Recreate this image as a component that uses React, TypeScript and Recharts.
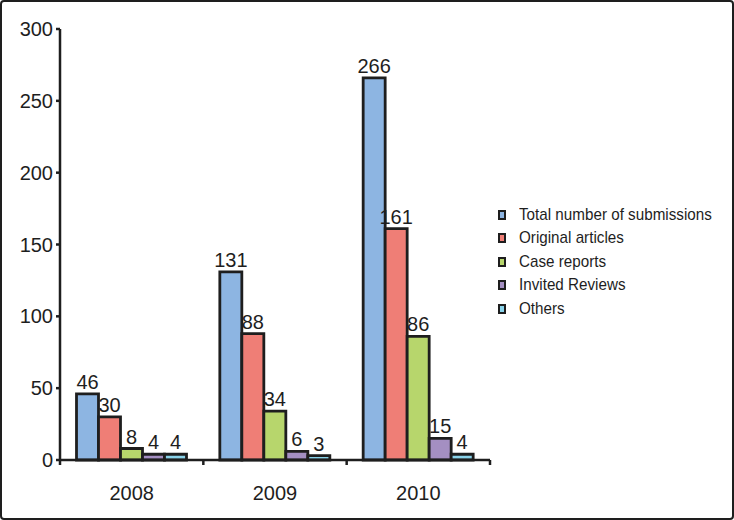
import React from 'react';
import { BarChart, Bar, XAxis, YAxis, Legend, LabelList } from 'recharts';

const years = ['2008', '2009', '2010'];
const totalSubmissions = [46, 131, 266];
const originalArticles = [30, 88, 161];
const caseReports = [8, 34, 86];
const invitedReviews = [4, 6, 15];
const others = [4, 3, 4];
const yTicks = [0, 50, 100, 150, 200, 250, 300];

const series = [
  { key: 'total', name: 'Total number of submissions', color: '#8DB5E2', values: totalSubmissions },
  { key: 'original', name: 'Original articles', color: '#EF7E76', values: originalArticles },
  { key: 'case', name: 'Case reports', color: '#B7D66C', values: caseReports },
  { key: 'invited', name: 'Invited Reviews', color: '#A48FC2', values: invitedReviews },
  { key: 'others', name: 'Others', color: '#8AD3EA', values: others },
];

const data = years.map((y, i) => {
  const row: any = { year: y };
  series.forEach((s) => (row[s.key] = s.values[i]));
  return row;
});

const FONT = '"Liberation Sans", Arial, sans-serif';
const INK = '#1e1e1e';

const XTick = (props: any) => {
  const { x, y, payload, index } = props;
  const half = payload && payload.offset ? payload.offset : 71.5;
  const ty = y - 8;
  return (
    <g>
      <line x1={x - half} y1={ty} x2={x - half} y2={ty + 5} stroke={INK} strokeWidth={2.5} />
      {index === years.length - 1 && (
        <line x1={x + half} y1={ty} x2={x + half} y2={ty + 5} stroke={INK} strokeWidth={2.5} />
      )}
      <text x={x} y={ty + 40} textAnchor="middle" fontSize={20} fill={INK} fontFamily={FONT}>
        {payload.value}
      </text>
    </g>
  );
};

const LegendContent = () => (
  <div style={{ fontFamily: FONT, fontSize: 17, color: INK, whiteSpace: 'nowrap' }}>
    {series.map((s) => (
      <div key={s.key} style={{ display: 'flex', alignItems: 'center', height: 23.5 }}>
        <span
          style={{
            display: 'inline-block',
            width: 4,
            height: 6,
            background: s.color,
            border: `2px solid ${INK}`,
            marginRight: 13,
            flexShrink: 0,
          }}
        />
        <span style={{ display: 'inline-block', transform: 'scaleX(0.895)', transformOrigin: 'left center' }}>
          {s.name}
        </span>
      </div>
    ))}
  </div>
);

export default function App() {
  return (
    <div style={{ position: 'absolute', left: 0, top: 0, width: 734, height: 520, background: '#fff' }}>
      <BarChart
        width={734}
        height={520}
        data={data}
        margin={{ top: 29, right: 244, bottom: 20, left: 0 }}
        barCategoryGap={16.5}
        barGap={0}
      >
        <XAxis
          dataKey="year"
          height={40}
          axisLine={{ stroke: INK, strokeWidth: 2.5 }}
          tickLine={false}
          tick={<XTick />}
          interval={0}
        />
        <YAxis
          width={60}
          domain={[0, 300]}
          ticks={yTicks}
          interval={0}
          axisLine={{ stroke: INK, strokeWidth: 2.5 }}
          tickLine={{ stroke: INK, strokeWidth: 2.5 }}
          tickSize={4}
          tickMargin={3}
          tick={{ fontSize: 20, fill: INK, fontFamily: FONT }}
        />
        <Legend
          layout="vertical"
          align="center"
          verticalAlign="middle"
          content={<LegendContent />}
          wrapperStyle={{ left: 498, top: 203, width: 230 }}
        />
        {series.map((s) => (
          <Bar
            key={s.key}
            dataKey={s.key}
            name={s.name}
            fill={s.color}
            stroke={INK}
            strokeWidth={2.8}
            isAnimationActive={false}
          >
            <LabelList
              dataKey={s.key}
              position="top"
              offset={5}
              fontSize={20}
              fill={INK}
              fontFamily={FONT}
            />
          </Bar>
        ))}
      </BarChart>
      <div
        style={{
          position: 'absolute',
          left: 0,
          top: 0,
          width: 734,
          height: 520,
          boxSizing: 'border-box',
          border: `2px solid ${INK}`,
          borderRadius: 4,
          pointerEvents: 'none',
        }}
      />
    </div>
  );
}
